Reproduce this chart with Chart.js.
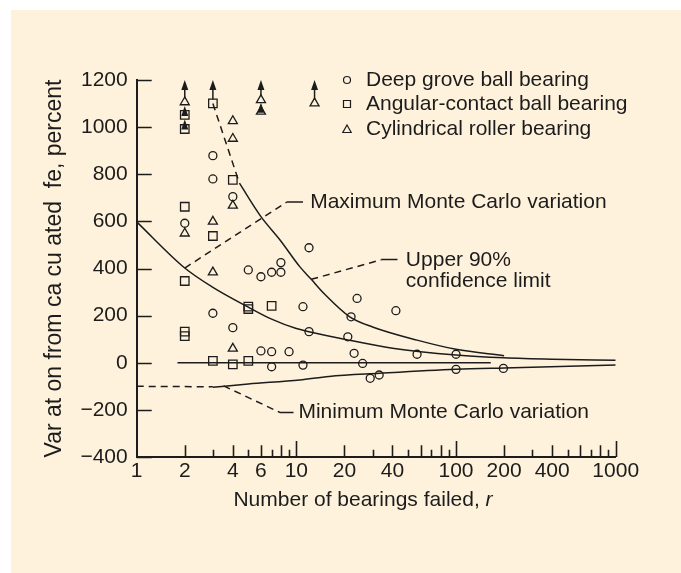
<!DOCTYPE html>
<html>
<head>
<meta charset="utf-8">
<script src="https://cdn.jsdelivr.net/npm/chart.js@4.4.0/dist/chart.umd.min.js"></script>
<style>
  html, body { margin: 0; padding: 0; background: #fef2dc; overflow: hidden; }
  #wrap { width: 681px; height: 573px; }
  .strip { position: fixed; background: #fff; }
</style>
</head>
<body>
<div class="strip" style="left:0;top:0;width:100%;height:10px"></div>
<div class="strip" style="left:0;top:0;width:11px;height:100%"></div>
<div id="wrap"><canvas id="chart" width="681" height="573"></canvas></div>
<script>
  const circleX = [2,3,3,3,4,4,5,6,6,7,7,7,8,8,9,11,11,12,12,21,22,23,24,26,29,33,42,57,100,100,198];
  const circleY = [592,879,780,210,705,149,394,365,50,384,47,-17,425,384,47,238,-10,488,132,110,195,40,273,-3,-66,-52,221,36,36,-28,-24];

  const squareX = [2,2,2,2,2,2,3,3,3,4,4,5,5,5,7];
  const squareY = [1052,992,662,347,132,113,1101,538,8,776,-7,238,228,8,241];

  const triX = [2,2,3,3,4,4,4,4,6,6,13];
  const triY = [1106,549,599,384,1026,951,667,60,1115,1066,1101];

  // off-scale points: arrow from the marker up to a value
  const arrowX    = [2,2,2,3,6,6,13];
  const arrowFrom = [1106,1052,992,1101,1115,1066,1101];
  const arrowTo   = [1200,1090,1032,1200,1200,1103,1200];

  // curves
  const maxX = [1,2,3,5,7,10,12,20,40,100,200,400,1000];
  const maxY = [598,402,320,236,185,145,132,100,62,33,21,15,11];

  const upperDashX = [3,4.4];
  const upperDashY = [1100,762];
  const upperX = [4.4,6,7.9,10.5,12.4,15,21.6,30,57,100,200];
  const upperY = [762,620,521,408,354,292,195,152,96,57,30];

  const minDashX = [1,3];
  const minDashY = [-100,-102];
  const minX = [3,5,10.5,16,33,100,200,1000];
  const minY = [-104,-90,-73,-58,-45,-28,-22,-10];

  const zeroX = [1.8,165];
  const zeroY = [0,0];

  // tick values / labels
  const xTickValues = [1,2,3,4,5,6,7,8,9,10,20,30,40,50,60,70,80,90,100,200,300,400,500,600,700,800,900,1000];
  const xTickLabels = [1,2,4,6,10,20,40,100,200,400,1000];
  const yTickValues = [-400,-200,0,200,400,600,800,1000,1200];

  const legendLabels = ['Deep grove ball bearing','Angular-contact ball bearing','Cylindrical roller bearing'];

  const FONT = "'Liberation Sans', Arial, Helvetica, sans-serif";
  const INK = '#1c1c1c';
  const PANEL = '#fef2dc';

  const pts = (xs, ys) => xs.map((x, i) => ({ x, y: ys[i] }));

  function markers(label, xs, ys, style, r) {
    return {
      label, data: pts(xs, ys), showLine: false,
      pointStyle: style, pointRadius: r, pointHoverRadius: r,
      pointBorderColor: INK, pointBackgroundColor: 'rgba(0,0,0,0)', pointBorderWidth: 1.3,
    };
  }
  function curve(xs, ys, dash) {
    return {
      data: pts(xs, ys), showLine: true, pointRadius: 0,
      borderColor: INK, borderWidth: 1.5, borderDash: dash || [],
      cubicInterpolationMode: 'monotone', fill: false,
    };
  }

  // leader lines to the annotations
  const leaders = [
    curve([2, 8.7], [402, 682], [7, 5]),
    curve([8.7, 11], [682, 682]),
    curve([12.4, 34], [354, 437], [7, 5]),
    curve([34, 43], [438, 438]),
    curve([3.5, 7.9], [-98, -211], [7, 5]),
    curve([7.9, 9.6], [-211, -211]),
  ];

  const notes = [
    { text: 'Maximum Monte Carlo variation', x: 12.2, y: 682 },
    { text: 'Upper 90%', x: 48.5, y: 436 },
    { text: 'confidence limit', x: 48.5, y: 347 },
    { text: 'Minimum Monte Carlo variation', x: 10.3, y: -210 },
  ];

  const panelPlugin = {
    id: 'panel',
    beforeDraw(chart) {
      const c = chart.ctx;
      c.save();
      c.fillStyle = '#fff';
      c.fillRect(0, 0, chart.width, chart.height);
      c.fillStyle = PANEL;
      c.fillRect(11, 10, chart.width - 11, chart.height - 10);
      c.restore();
    }
  };

  const tickPlugin = {
    id: 'inTicks',
    afterDraw(chart) {
      const { ctx: c, chartArea: a, scales: { x, y } } = chart;
      c.save();
      c.strokeStyle = INK;
      c.lineWidth = 1.6;
      c.beginPath();
      xTickValues.forEach(v => {
        if (v === 1) return;
        const lead = v / Math.pow(10, Math.floor(Math.log10(v) + 1e-9));
        const len = Math.abs(lead - 1) < 1e-6 ? 16 : (Math.round(lead) % 2 === 0 ? 11.7 : 7.3);
        const px = Math.round(x.getPixelForValue(v)) + 0.5;
        c.moveTo(px, a.bottom);
        c.lineTo(px, a.bottom - len);
      });
      yTickValues.forEach(v => {
        const py = Math.round(y.getPixelForValue(v)) + 0.5;
        c.moveTo(a.left, py);
        c.lineTo(a.left + 15, py);
      });
      c.stroke();
      c.restore();
    }
  };

  const arrowPlugin = {
    id: 'arrows',
    afterDatasetsDraw(chart) {
      const { ctx: c, scales: { x, y } } = chart;
      c.save();
      c.strokeStyle = INK;
      c.fillStyle = INK;
      c.lineWidth = 1.5;
      arrowX.forEach((v, i) => {
        const px = x.getPixelForValue(v);
        const y0 = y.getPixelForValue(arrowFrom[i]) - 4;
        const y1 = y.getPixelForValue(arrowTo[i]);
        c.beginPath();
        c.moveTo(px, y0);
        c.lineTo(px, y1 + 8);
        c.stroke();
        c.beginPath();
        c.moveTo(px, y1);
        c.lineTo(px - 3.5, y1 + 10);
        c.lineTo(px + 3.5, y1 + 10);
        c.closePath();
        c.fill();
      });
      c.restore();
    }
  };

  const textPlugin = {
    id: 'texts',
    afterDraw(chart) {
      const { ctx: c, chartArea: a, scales: { x, y } } = chart;
      c.save();
      c.fillStyle = INK;
      c.font = '21px ' + FONT;
      c.textBaseline = 'middle';
      c.textAlign = 'left';
      notes.forEach(n => c.fillText(n.text, x.getPixelForValue(n.x), y.getPixelForValue(n.y)));

      // legend
      const lx = 347, tx = 366, rows = [80, 104, 129];
      c.strokeStyle = INK;
      c.lineWidth = 1.2;
      legendLabels.forEach((t, i) => {
        const ly = rows[i];
        c.beginPath();
        if (i === 0) c.arc(lx, ly, 3.5, 0, Math.PI * 2);
        else if (i === 1) c.rect(lx - 3.5, ly - 3.5, 7, 7);
        else { c.moveTo(lx, ly - 4); c.lineTo(lx + 4.2, ly + 3.5); c.lineTo(lx - 4.2, ly + 3.5); c.closePath(); }
        c.stroke();
        c.fillText(t, tx, ly);
      });

      // x axis title with italic r
      const t1 = 'Number of bearings failed, ';
      c.font = '21px ' + FONT;
      const w1 = c.measureText(t1).width;
      c.font = 'italic 21px ' + FONT;
      const w2 = c.measureText('r').width;
      const sx = 363 - (w1 + w2) / 2;
      c.font = '21px ' + FONT;
      c.fillText(t1, sx, 500);
      c.font = 'italic 21px ' + FONT;
      c.fillText('r', sx + w1, 500);

      // y axis title
      c.font = '23px ' + FONT;
      c.translate(55, (a.top + a.bottom) / 2);
      c.rotate(-Math.PI / 2);
      c.textAlign = 'center';
      c.fillText('Var at on from ca cu ated  fe, percent', 0, 0);
      c.restore();
    }
  };

  new Chart(document.getElementById('chart'), {
    type: 'scatter',
    data: {
      datasets: [
        markers('Deep grove ball bearing', circleX, circleY, 'circle', 4),
        markers('Angular-contact ball bearing', squareX, squareY, 'rect', 6),
        markers('Cylindrical roller bearing', triX, triY, 'triangle', 5.2),
        curve(maxX, maxY),
        curve(upperDashX, upperDashY, [7, 5]),
        curve(upperX, upperY),
        curve(minDashX, minDashY, [7, 5]),
        curve(minX, minY),
        curve(zeroX, zeroY),
        ...leaders,
      ]
    },
    options: {
      responsive: false,
      animation: false,
      devicePixelRatio: 1,
      layout: { padding: { top: 80, right: 65.3, left: 0, bottom: 0 } },
      plugins: { legend: { display: false }, tooltip: { enabled: false } },
      elements: { line: { tension: 0 } },
      scales: {
        x: {
          type: 'logarithmic', position: 'bottom', min: 1, max: 1000,
          grid: { display: false, drawTicks: false },
          border: { display: true, color: INK, width: 2 },
          afterBuildTicks: s => { s.ticks = xTickValues.map(v => ({ value: v })); },
          afterFit: s => { s.height = 116; },
          ticks: {
            autoSkip: false, maxRotation: 0, padding: 2,
            color: INK, font: { family: FONT, size: 21 },
            callback: v => xTickLabels.includes(v) ? String(v) : ''
          }
        },
        y: {
          type: 'linear', min: -400, max: 1200,
          grid: { display: false, drawTicks: false },
          border: { display: true, color: INK, width: 2 },
          afterFit: s => { s.width = 136.7; },
          ticks: {
            stepSize: 200, padding: 9,
            color: INK, font: { family: FONT, size: 21 },
            callback: v => String(v).replace('-', '\u2212')
          }
        }
      }
    },
    plugins: [panelPlugin, tickPlugin, arrowPlugin, textPlugin]
  });
</script>
</body>
</html>
